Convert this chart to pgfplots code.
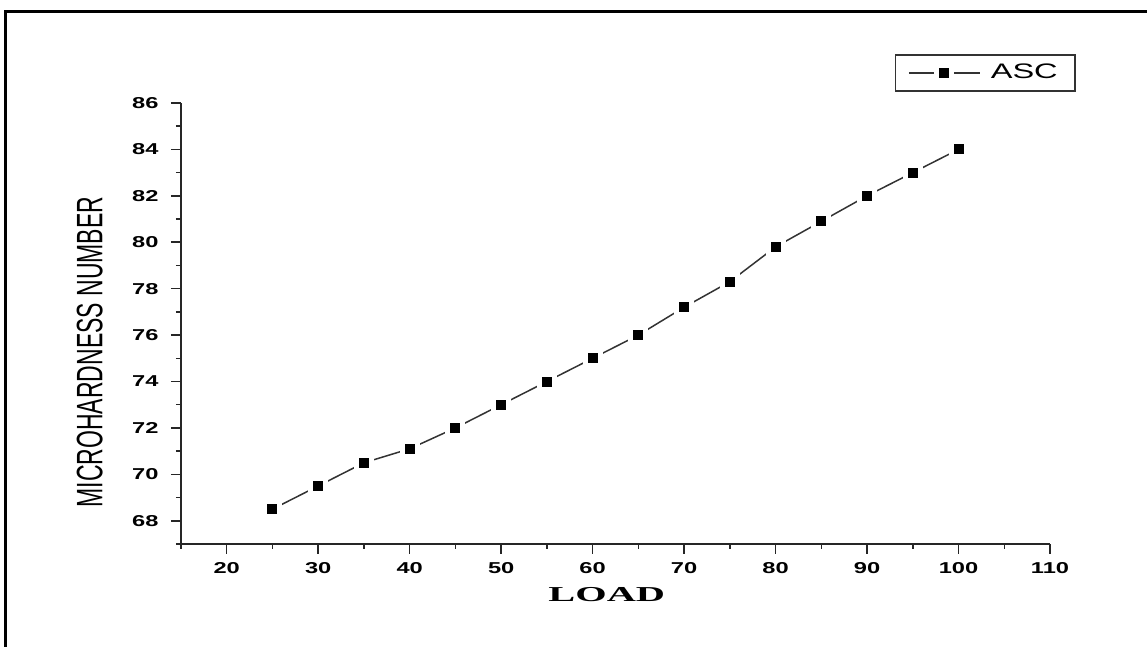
\documentclass[border=0pt]{standalone}
\usepackage{fontspec}
\setmainfont{Liberation Sans}
\newfontfamily\serifb{Liberation Serif}
\usepackage{pgfplots}
\pgfplotsset{compat=1.18}
\begin{document}
\begin{tikzpicture}
% 1 px of the reference = 0.4pt, axis corner at the origin
\useasboundingbox (-72.4pt,-41.2pt) rectangle (386.4pt,217.6pt);
\begin{axis}[
  at={(0,0)}, anchor=south west,
  scale only axis, width=347.6pt, height=176.4pt,
  xmin=15, xmax=110, ymin=67, ymax=86,
  axis lines=left, axis line style={-, black!85, line width=0.8pt},
  xtick={20,30,...,110}, ytick={68,70,...,86},
  minor xtick={15,25,...,105}, minor ytick={67,69,...,85},
  tick align=outside, major tick length=4pt, minor tick length=2pt,
  tick style={black!85, line width=0.6pt},
  /pgf/number format/assume math mode=true,
  xticklabel={\scalebox{1.5}[1]{\bfseries\fontsize{6.3}{7}\selectfont\pgfmathprintnumber{\tick}}},
  yticklabel={\scalebox{1.5}[1]{\bfseries\fontsize{6.3}{7}\selectfont\pgfmathprintnumber{\tick}}},
  yticklabel style={xshift=-1.5pt},
  xlabel={\scalebox{1.9}[1]{\serifb\bfseries\fontsize{8.5}{10}\selectfont LOAD}},
  ylabel={\scalebox{1}[1.6]{\fontsize{9.2}{10}\selectfont MICROHARDNESS NUMBER}},
  xlabel style={at={(axis description cs:0.49,-0.1145)}, anchor=center},
  ylabel style={at={(axis description cs:-0.105,0.435)}, anchor=center, rotate=0},
  legend style={at={(axis description cs:1.0299,1.11)}, anchor=north east,
    draw=black!80, line width=0.6pt, inner xsep=5pt, inner ysep=1.5pt},
  legend cell align=left,
  legend image code/.code={\draw[mark repeat=2, mark phase=2, #1] plot coordinates {(0cm,0cm) (0.5cm,0cm) (1.0cm,0cm)};},
]
\addplot[color=black!80, line width=0.6pt, mark=square*, mark size=3pt,
  mark options={fill=black, draw=white, line width=2pt, solid}]
  coordinates {(25,68.5)(30,69.5)(35,70.5)(40,71.1)(45,72)(50,73)(55,74)(60,75)
               (65,76)(70,77.2)(75,78.3)(80,79.8)(85,80.9)(90,82)(95,83)(100,84)};
\addlegendentry{\hspace{2pt}\scalebox{1.55}[1]{\fontsize{8.4}{9}\selectfont ASC}}
\end{axis}
\draw[line width=1.2pt] (-70pt,-60pt) -- (-70pt,212.8pt) -- (400pt,212.8pt);
\end{tikzpicture}
\end{document}
